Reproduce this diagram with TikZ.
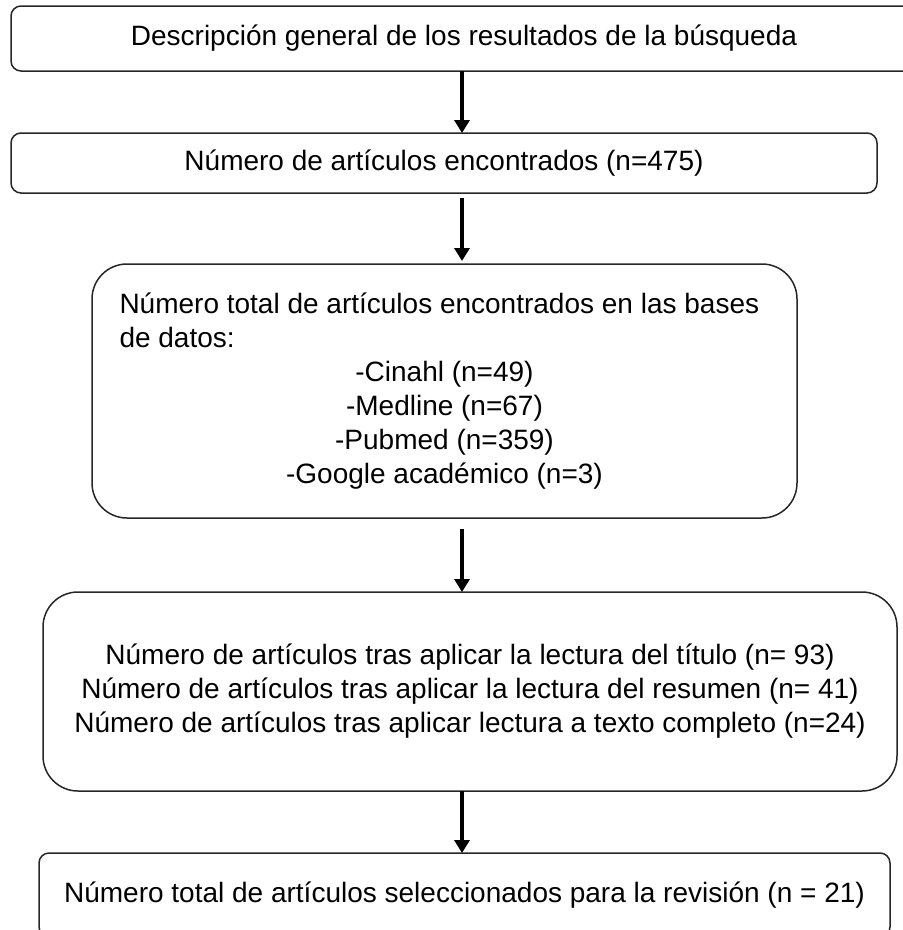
\documentclass[tikz,border=0pt]{standalone}
\usepackage{fontspec}
\setmainfont{Liberation Sans}
\usetikzlibrary{arrows.meta}

\begin{document}
\begin{tikzpicture}[x=1pt,y=-1pt,
    box/.style={draw=black!85, line width=1.5pt, rounded corners=10pt,
      inner sep=0pt, outer sep=0pt, font=\fontsize{28}{34}\selectfont},
    bigbox/.style={box, rounded corners=35pt},
    >={Triangle[width=15pt,length=13pt]}, flow/.style={->, line width=3.5pt}]
    \useasboundingbox (0,0) rectangle (903,930);
    \node[box, minimum width=906pt, minimum height=65pt] (A) at (464,38.5)
      {Descripción general de los resultados de la búsqueda};
    \node[box, minimum width=866pt, minimum height=60pt] (B) at (444,163)
      {Número de artículos encontrados (n=475)};
    \node[bigbox, minimum width=705pt, minimum height=254pt, align=center] (C) at (444.5,391)
      {\makebox[650pt][l]{Número total de artículos encontrados en las bases}\\
       \makebox[650pt][l]{de datos:}\\
       -Cinahl (n=49)\\-Medline (n=67)\\-Pubmed (n=359)\\-Google académico (n=3)};
    \node[bigbox, minimum width=854pt, minimum height=199pt, align=center] (D) at (470,691.5)
      {Número de artículos tras aplicar la lectura del título (n= 93)\\
       Número de artículos tras aplicar la lectura del resumen (n= 41)\\
       Número de artículos tras aplicar lectura a texto completo (n=24)};
    \node[box, minimum width=851pt, minimum height=84pt] (E) at (464.5,895)
      {Número total de artículos seleccionados para la revisión (n = 21)};
    \coordinate (ax) at (462,0);
    \draw[flow] (A.south -| ax) -- (B.north -| ax);
    \draw[flow, shorten <=5pt, shorten >=3pt] (B.south -| ax) -- (C.north -| ax);
    \draw[flow, shorten <=11pt] (C.south -| ax) -- (D.north -| ax);
    \draw[flow] (D.south -| ax) -- (E.north -| ax);
\end{tikzpicture}
\end{document}
